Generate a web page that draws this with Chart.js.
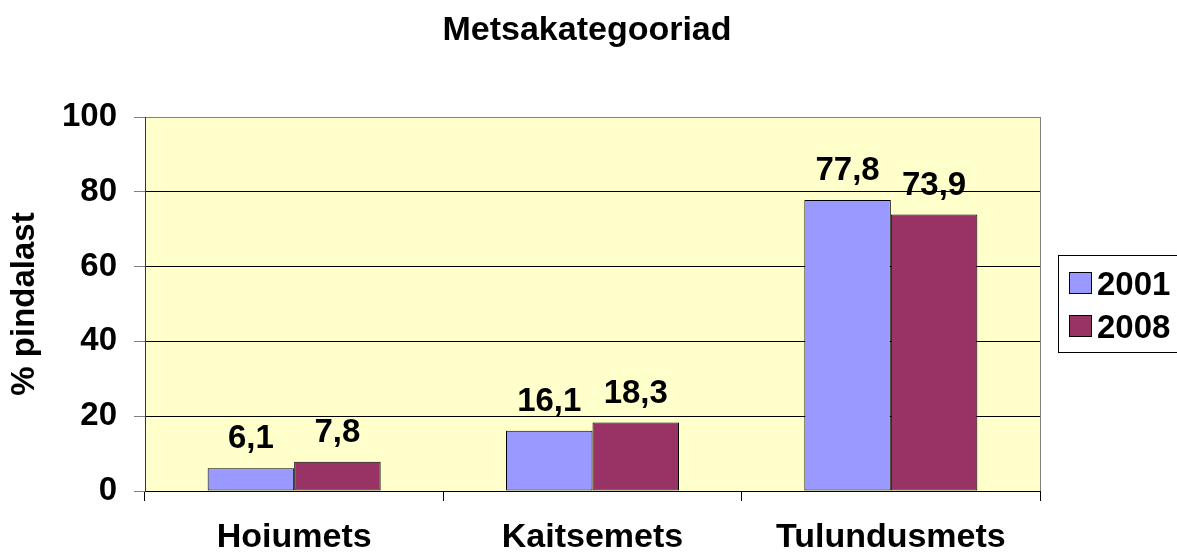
<!DOCTYPE html>
<html>
<head>
<meta charset="utf-8">
<script src="https://cdn.jsdelivr.net/npm/chart.js@4"></script>
<style>
  html, body { margin: 0; padding: 0; background: #fff; }
  #wrap { width: 1177px; height: 555px; }
</style>
</head>
<body>
<div id="wrap"><canvas id="chart" width="1177" height="555"></canvas></div>
<script>
"use strict";

const categories = ["Hoiumets", "Kaitsemets", "Tulundusmets"];
const seriesLabels = ["2001", "2008"];
const values2001 = [6.1, 16.1, 77.8];
const values2008 = [7.8, 18.3, 73.9];
const chartTitle = "Metsakategooriad";
const yAxisTitle = "% pindalast";

const FONT = "'Liberation Sans', Arial, sans-serif";
const COLORS = { s2001: "#9999FF", s2008: "#993366", plotBg: "#FFFFCC", frame: "#808080" };

const fmt = v => v.toFixed(1).replace(".", ",");

const decorPlugin = {
  id: "decor",
  beforeDraw(chart) {
    const { ctx, chartArea: a } = chart;
    ctx.save();
    ctx.fillStyle = COLORS.plotBg;
    ctx.fillRect(a.left, a.top, a.right - a.left, a.bottom - a.top);
    ctx.restore();
  },
  afterDatasetsDraw(chart) {
    const { ctx, chartArea: a } = chart;
    ctx.save();
    // grey frame on the right
    ctx.strokeStyle = COLORS.frame;
    ctx.lineWidth = 1;
    ctx.beginPath();
    ctx.moveTo(Math.round(a.right) + 0.5, a.top);
    ctx.lineTo(Math.round(a.right) + 0.5, a.bottom);
    ctx.stroke();

    // value labels
    ctx.fillStyle = "#000";
    ctx.font = "bold 33px " + FONT;
    ctx.textAlign = "center";
    ctx.textBaseline = "alphabetic";
    chart.data.datasets.forEach((ds, i) => {
      chart.getDatasetMeta(i).data.forEach((bar, j) => {
        ctx.fillText(fmt(ds.data[j]), bar.x, bar.y - 20);
      });
    });
    ctx.restore();
  },
  afterDraw(chart) {
    const { ctx } = chart;
    ctx.save();
    // title
    ctx.fillStyle = "#000";
    ctx.font = "bold 34px " + FONT;
    ctx.textAlign = "center";
    ctx.textBaseline = "alphabetic";
    ctx.fillText(chartTitle, 587, 40);

    // legend
    ctx.strokeStyle = "#000";
    ctx.lineWidth = 1;
    ctx.strokeRect(1058.5, 255.5, 130, 97);
    ctx.font = "bold 33px " + FONT;
    ctx.textAlign = "left";
    chart.data.datasets.forEach((ds, i) => {
      const y = 272 + i * 43;
      ctx.fillStyle = ds.backgroundColor;
      ctx.fillRect(1069.5, y + 0.5, 22, 21);
      ctx.strokeRect(1069.5, y + 0.5, 22, 21);
      ctx.fillStyle = "#000";
      ctx.fillText(ds.label, 1097, y + 23);
    });
    ctx.restore();
  }
};

new Chart(document.getElementById("chart"), {
  type: "bar",
  data: {
    labels: categories,
    datasets: [
      {
        label: seriesLabels[0],
        data: values2001,
        backgroundColor: COLORS.s2001,
        borderColor: "#000",
        borderWidth: 1,
        borderSkipped: false,
        categoryPercentage: 0.58,
        barPercentage: 1.0
      },
      {
        label: seriesLabels[1],
        data: values2008,
        backgroundColor: COLORS.s2008,
        borderColor: "#000",
        borderWidth: 1,
        borderSkipped: false,
        categoryPercentage: 0.58,
        barPercentage: 1.0
      }
    ]
  },
  options: {
    responsive: false,
    animation: false,
    layout: { padding: { top: 117, right: 137, bottom: 0, left: 0 } },
    plugins: {
      legend: { display: false },
      title: { display: false },
      tooltip: { enabled: false }
    },
    scales: {
      x: {
        afterFit: scale => { scale.height = 64; },
        grid: {
          offset: true,
          drawOnChartArea: false,
          drawTicks: true,
          tickLength: 10,
          color: "#000"
        },
        border: { color: "#000", width: 1 },
        ticks: {
          color: "#000",
          padding: 16,
          font: { family: FONT, size: 34, weight: "bold" }
        }
      },
      y: {
        min: 0,
        max: 100,
        afterFit: scale => { scale.width = 145; },
        grid: {
          color: ctx => (ctx.tick && ctx.tick.value === 100 ? COLORS.frame : "#000"),
          tickColor: COLORS.frame,
          tickLength: 11
        },
        border: { color: "#333", width: 1 },
        title: {
          display: true,
          text: yAxisTitle,
          color: "#000",
          padding: { top: 5, bottom: 0 },
          font: { family: FONT, size: 33, weight: "bold" }
        },
        ticks: {
          stepSize: 20,
          color: "#000",
          padding: 17,
          font: { family: FONT, size: 33, weight: "bold" }
        }
      }
    }
  },
  plugins: [decorPlugin]
});
</script>
</body>
</html>
